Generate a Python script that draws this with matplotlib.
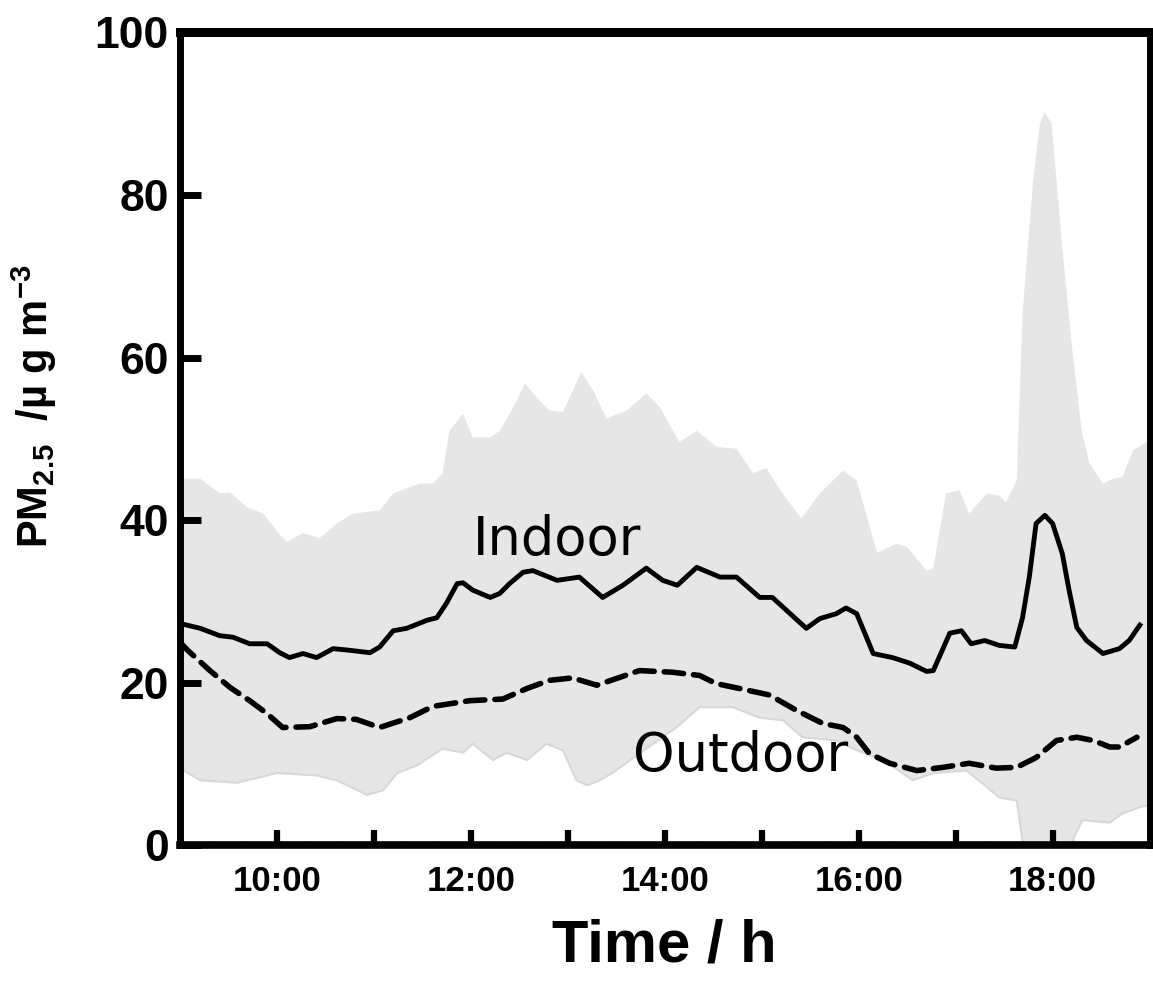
import matplotlib
matplotlib.use("Agg")
import matplotlib.pyplot as plt
import numpy as np
from matplotlib.ticker import FixedLocator, MultipleLocator

plt.rcParams["mathtext.fontset"] = "custom"
plt.rcParams["mathtext.rm"] = "Liberation Sans:bold"
plt.rcParams["mathtext.bf"] = "Liberation Sans:bold"

# hours of day (decimal) and PM2.5 values
t_in = [9.0, 9.21, 9.41, 9.55, 9.72, 9.9, 10.03, 10.13, 10.27, 10.41, 10.58, 10.75,
        10.96, 11.06, 11.2, 11.34, 11.55, 11.65, 11.75, 11.86, 11.92, 12.02, 12.2,
        12.3, 12.4, 12.54, 12.64, 12.89, 13.12, 13.36, 13.57, 13.81, 13.98, 14.13,
        14.33, 14.57, 14.74, 14.98, 15.11, 15.46, 15.6, 15.77, 15.87, 15.98, 16.15,
        16.35, 16.53, 16.7, 16.77, 16.94, 17.06, 17.16, 17.3, 17.45, 17.61, 17.69,
        17.76, 17.83, 17.92, 18.0, 18.1, 18.17, 18.25, 18.35, 18.52, 18.69, 18.79, 18.9]
indoor = [27.3, 26.7, 25.8, 25.6, 24.8, 24.8, 23.7, 23.1, 23.6, 23.1, 24.2, 24.0,
          23.7, 24.4, 26.4, 26.7, 27.7, 28.0, 29.8, 32.2, 32.3, 31.4, 30.5,
          31.0, 32.2, 33.6, 33.8, 32.6, 33.0, 30.5, 32.0, 34.1, 32.6, 32.0,
          34.2, 33.0, 33.0, 30.5, 30.5, 26.7, 27.9, 28.5, 29.2, 28.5, 23.6,
          23.1, 22.4, 21.4, 21.5, 26.1, 26.4, 24.8, 25.2, 24.6, 24.4, 28.0,
          33.0, 39.6, 40.6, 39.6, 35.9, 31.4, 26.8, 25.2, 23.6, 24.2, 25.2, 27.1]

t_out = [9.0, 9.08, 9.31, 9.52, 9.72, 9.9, 10.06, 10.34, 10.62, 10.82, 11.06, 11.37,
         11.61, 11.99, 12.33, 12.58, 12.81, 13.05, 13.3, 13.74, 14.08, 14.36, 14.53,
         14.77, 15.08, 15.36, 15.63, 15.84, 15.98, 16.11, 16.32, 16.6, 16.87, 17.14,
         17.42, 17.63, 17.83, 18.04, 18.25, 18.42, 18.59, 18.69, 18.87]
outdoor = [25.0, 24.0, 21.5, 19.4, 17.8, 16.2, 14.5, 14.6, 15.6, 15.5, 14.5, 15.7,
           17.1, 17.8, 18.0, 19.3, 20.3, 20.6, 19.7, 21.5, 21.3, 20.9, 19.9,
           19.3, 18.5, 16.6, 15.0, 14.5, 13.3, 11.3, 10.1, 9.2, 9.6, 10.1,
           9.5, 9.6, 10.8, 12.9, 13.3, 12.9, 12.1, 12.1, 13.3]

t_up = [9.0, 9.21, 9.41, 9.52, 9.69, 9.86, 10.0, 10.1, 10.27, 10.44, 10.62, 10.78,
        11.06, 11.2, 11.47, 11.61, 11.71, 11.78, 11.92, 12.02, 12.2, 12.3, 12.44,
        12.56, 12.68, 12.81, 12.95, 13.14, 13.26, 13.4, 13.61, 13.81, 13.95, 14.15,
        14.33, 14.54, 14.74, 14.91, 15.05, 15.19, 15.41, 15.6, 15.84, 15.98, 16.19,
        16.39, 16.5, 16.7, 16.77, 16.9, 17.04, 17.14, 17.32, 17.45, 17.52, 17.63,
        17.69, 17.8, 17.87, 17.92, 17.99, 18.1, 18.2, 18.3, 18.38, 18.52, 18.62,
        18.72, 18.83, 19.0]
upper = [45.1, 45.1, 43.3, 43.4, 41.6, 40.8, 38.7, 37.3, 38.4, 37.8, 39.6, 40.8,
         41.2, 43.3, 44.5, 44.5, 45.8, 51.0, 53.1, 50.2, 50.2, 51.0, 53.9,
         56.8, 55.1, 53.5, 53.3, 58.2, 56.0, 52.5, 53.5, 55.6, 53.9, 49.6,
         51.0, 49.0, 48.8, 45.8, 46.4, 43.7, 40.2, 43.3, 46.1, 44.9, 36.0,
         37.1, 36.7, 33.8, 34.1, 43.3, 43.7, 40.8, 43.3, 43.0, 42.2, 44.9,
         65.4, 81.8, 88.8, 90.2, 88.8, 73.6, 61.3, 51.0, 47.0, 44.5, 45.1,
         45.3, 48.6, 49.8]

t_lo = [9.0, 9.21, 9.59, 10.0, 10.41, 10.62, 10.93, 11.1, 11.24, 11.44, 11.71, 11.92,
        12.02, 12.23, 12.37, 12.58, 12.78, 12.95, 13.09, 13.2, 13.33, 13.46, 13.74,
        14.12, 14.36, 14.7, 14.98, 15.22, 15.42, 15.77, 15.98, 16.25, 16.45, 16.56,
        16.77, 17.11, 17.28, 17.45, 17.63, 17.69, 17.75, 18.15, 18.22, 18.31, 18.59,
        18.72, 18.9, 19.0]
lower = [9.5, 8.0, 7.7, 8.9, 8.6, 8.0, 6.2, 6.8, 8.9, 9.8, 11.9, 11.4,
         12.5, 10.5, 11.4, 10.5, 12.5, 11.7, 8.0, 7.4, 8.0, 8.9, 11.3,
         14.5, 17.0, 17.0, 15.7, 15.4, 13.3, 12.9, 11.7, 10.5, 8.9, 8.0,
         8.9, 9.2, 7.6, 5.9, 5.5, 0.6, -5.0, -5.0, 1.0, 3.1, 2.8,
         3.9, 4.7, 5.0]

hour_ticks = list(range(10, 19))
hour_labels = ["%d:00" % h if h % 2 == 0 else "" for h in hour_ticks]

fig = plt.figure(figsize=(11.53, 9.83), dpi=100)
ax = fig.add_axes([0.156, 0.140, 0.841, 0.827])

# min-max band
ax.fill(np.concatenate([t_up, t_lo[::-1]]), np.concatenate([upper, lower[::-1]]),
        color="#e6e6e6", lw=0, zorder=1)
ax.plot(t_lo, lower, color="#d8d8d8", lw=1.5, zorder=1)

ax.plot(t_in, indoor, color="black", lw=3.5, zorder=3)
ax.plot(t_out, outdoor, color="black", lw=4, dashes=(3.5, 1.8),
        dash_capstyle="round", zorder=3)

ax.text(12.89, 35.7, "Indoor", fontsize=38, family="DejaVu Sans",
        ha="center", va="baseline", zorder=4)
ax.text(14.78, 9.2, "Outdoor", fontsize=38, family="DejaVu Sans",
        ha="center", va="baseline", zorder=4)

ax.set_xlim(9, 19)
ax.set_ylim(0, 100)

ax.xaxis.set_major_locator(FixedLocator(hour_ticks))
ax.set_xticklabels(hour_labels, family="Liberation Sans", fontweight="bold", fontsize=25)
ax.xaxis.set_minor_locator(MultipleLocator(1 / 3))
ax.set_yticks([0, 20, 40, 60, 80, 100])
ax.set_yticklabels(["0", "20", "40", "60", "80", "100"], family="Liberation Sans",
                   fontweight="bold", fontsize=32)

ax.tick_params(axis="x", which="major", direction="in", length=11, width=4.5, pad=14)
ax.tick_params(axis="x", which="minor", direction="in", length=3, width=1, color="#555555")
ax.tick_params(axis="y", which="major", direction="in", length=15, width=5, pad=8)
ax.tick_params(top=False, right=False)

ax.spines["top"].set_linewidth(6.5)
ax.spines["left"].set_linewidth(5)
ax.spines["bottom"].set_linewidth(5.5)
ax.spines["right"].set_linewidth(5)

ax.set_xlabel("Time / h", family="Liberation Sans", fontweight="bold", fontsize=43)
ax.xaxis.set_label_coords(0.5, -0.09)
ax.set_ylabel(r"$\mathbf{PM_{2.5}}$  /µ g m$^{\mathbf{-3}}$", family="Liberation Sans",
              fontweight="bold", fontsize=30)
ax.yaxis.set_label_coords(-0.125, 0.54)

plt.savefig("out.png", dpi=100)
